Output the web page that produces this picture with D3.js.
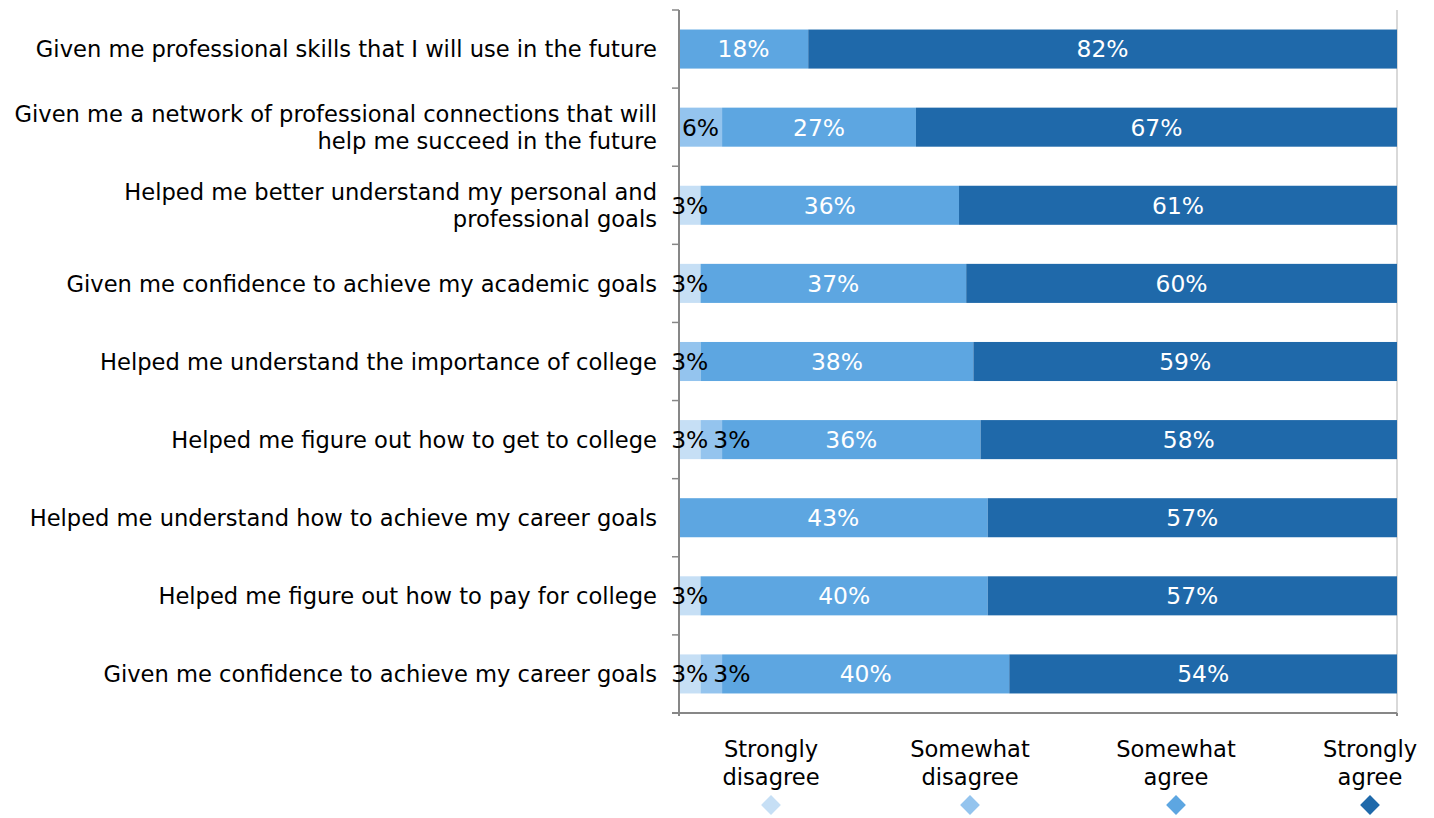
<!DOCTYPE html>
<html>
<head>
<meta charset="utf-8">
<script src="https://cdn.jsdelivr.net/npm/d3@7"></script>
<style>
  html, body { margin: 0; padding: 0; background: #fff; }
  svg { display: block; font-family: "DejaVu Sans", Verdana, sans-serif; }
</style>
</head>
<body>
<svg id="chart" width="1434" height="818"></svg>
<script>
// Survey statements (top to bottom)
const categories = [
  ["Given me professional skills that I will use in the future"],
  ["Given me a network of professional connections that will", "help me succeed in the future"],
  ["Helped me better understand my personal and", "professional goals"],
  ["Given me confidence to achieve my academic goals"],
  ["Helped me understand the importance of college"],
  ["Helped me figure out how to get to college"],
  ["Helped me understand how to achieve my career goals"],
  ["Helped me figure out how to pay for college"],
  ["Given me confidence to achieve my career goals"]
];

// Response categories
const seriesNames = ["Strongly disagree", "Somewhat disagree", "Somewhat agree", "Strongly agree"];
const legendLines = [["Strongly", "disagree"], ["Somewhat", "disagree"], ["Somewhat", "agree"], ["Strongly", "agree"]];

// Percent of respondents per statement
const stronglyDisagree = [0, 0, 3, 3, 0, 3, 0, 3, 3];
const somewhatDisagree = [0, 6, 0, 0, 3, 3, 0, 0, 3];
const somewhatAgree    = [18, 27, 36, 37, 38, 36, 43, 40, 40];
const stronglyAgree    = [82, 67, 61, 60, 59, 58, 57, 57, 54];

const colors = ["#c6dff5", "#94c4ee", "#5da6e1", "#1f69aa"];
const labelColors = ["#000", "#000", "#fff", "#fff"];

const rows = categories.map((c, i) => ({
  key: i,
  label: c,
  [seriesNames[0]]: stronglyDisagree[i],
  [seriesNames[1]]: somewhatDisagree[i],
  [seriesNames[2]]: somewhatAgree[i],
  [seriesNames[3]]: stronglyAgree[i]
}));

const svg = d3.select("#chart");
const margin = { left: 679, right: 37, top: 10, bottom: 105 };
const W = 1434, H = 818;
const x0 = margin.left, x1 = W - margin.right;
const y0 = margin.top, y1 = H - margin.bottom;
const fontSize = 22.6;
const valueFontSize = 23.4;

const x = d3.scaleLinear().domain([0, 100]).range([x0, x1]);
const y = d3.scaleBand().domain(rows.map(d => d.key)).range([y0, y1]).paddingInner(0.5).paddingOuter(0.25);

const stack = d3.stack().keys(seriesNames);
const layers = stack(rows);

// Gridline at 100%
svg.append("line")
  .attr("x1", x(100)).attr("x2", x(100))
  .attr("y1", y0).attr("y2", y1)
  .attr("stroke", "#d9d9d9").attr("stroke-width", 2);

// Bars
const g = svg.append("g");
layers.forEach((layer, si) => {
  g.append("g").selectAll("rect")
    .data(layer)
    .join("rect")
    .attr("x", d => x(d[0]))
    .attr("width", d => x(d[1]) - x(d[0]))
    .attr("y", d => y(d.data.key))
    .attr("height", y.bandwidth())
    .attr("fill", colors[si]);
});

// Axis lines
const axisColor = "#878787";
const step = (y1 - y0) / categories.length;
svg.append("line")
  .attr("x1", x0).attr("x2", x0).attr("y1", y0).attr("y2", y1 + 3)
  .attr("stroke", axisColor).attr("stroke-width", 2);
svg.append("g").selectAll("line")
  .data(d3.range(categories.length + 1))
  .join("line")
  .attr("x1", x0 - 7).attr("x2", x0)
  .attr("y1", i => y0 + i * step).attr("y2", i => y0 + i * step)
  .attr("stroke", axisColor).attr("stroke-width", 1.5);
svg.append("line")
  .attr("x1", x0 - 7).attr("x2", x1).attr("y1", y1).attr("y2", y1)
  .attr("stroke", axisColor).attr("stroke-width", 2);
svg.append("line")
  .attr("x1", x1).attr("x2", x1).attr("y1", y1).attr("y2", y1 + 3)
  .attr("stroke", axisColor).attr("stroke-width", 2);

// Segment value labels, nudged right when they would collide with the previous one
const labelG = svg.append("g");
rows.forEach((r, ri) => {
  let prevRight = -Infinity;
  layers.forEach((layer, si) => {
    const d = layer[ri];
    const v = d[1] - d[0];
    if (v <= 0) return;
    const t = labelG.append("text")
      .attr("y", y(r.key) + y.bandwidth() / 2)
      .attr("dy", "0.36em")
      .attr("text-anchor", "middle")
      .attr("font-size", valueFontSize)
      .attr("fill", labelColors[si])
      .text(Math.round(v) + "%");
    const w = t.node().getComputedTextLength();
    let cx = (x(d[0]) + x(d[1])) / 2;
    if (cx - w / 2 < prevRight + 5) cx = prevRight + 5 + w / 2;
    t.attr("x", cx);
    prevRight = cx + w / 2;
  });
});

// Category labels
const catG = svg.append("g");
rows.forEach(r => {
  const cy = y(r.key) + y.bandwidth() / 2;
  const n = r.label.length;
  const lh = 27;
  const t = catG.append("text")
    .attr("text-anchor", "end")
    .attr("font-size", fontSize)
    .attr("fill", "#000");
  r.label.forEach((line, li) => {
    t.append("tspan")
      .attr("x", x0 - 22)
      .attr("y", cy + (li - (n - 1) / 2) * lh)
      .attr("dy", "0.36em")
      .text(line);
  });
});

// Legend
const legendX = [771, 970, 1176, 1370];
const leg = svg.append("g");
seriesNames.forEach((s, i) => {
  const t = leg.append("text")
    .attr("text-anchor", "middle")
    .attr("font-size", fontSize)
    .attr("fill", "#000");
  legendLines[i].forEach((line, li) => {
    t.append("tspan").attr("x", legendX[i]).attr("y", 757 + li * 28).text(line);
  });
  leg.append("path")
    .attr("d", d3.symbol(d3.symbolDiamond2, 250)())
    .attr("transform", `translate(${legendX[i]},805)`)
    .attr("fill", colors[i]);
});
</script>
</body>
</html>
